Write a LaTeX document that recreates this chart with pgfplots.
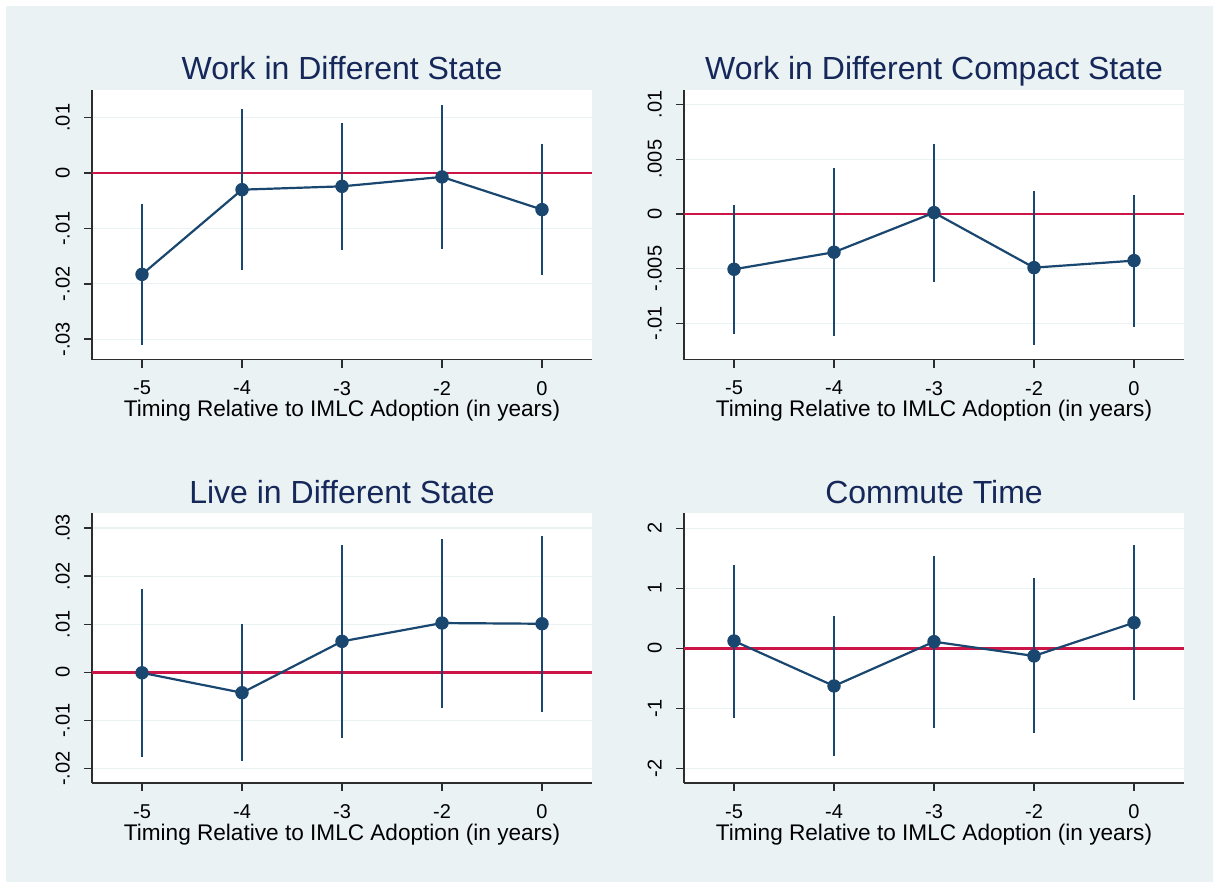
\documentclass[border=0pt]{standalone}
\usepackage{fontspec}
\setmainfont{Liberation Sans}
\usepackage{pgfplots}
\usepackage{pgfplotstable}
\pgfplotsset{compat=1.18}
\definecolor{bg}{RGB}{234,242,243}
\definecolor{gridc}{RGB}{234,242,243}
\definecolor{navy}{RGB}{26,71,111}
\definecolor{titlec}{RGB}{22,40,90}
\definecolor{zeroc}{RGB}{204,20,70}
\definecolor{axisc}{RGB}{45,45,45}

\pgfplotstableread{
x y lo hi
0 -0.0183 -0.0311 -0.0056
1 -0.0030 -0.0175 0.0116
2 -0.0024 -0.0139 0.0091
3 -0.0007 -0.0137 0.0123
4 -0.0066 -0.0184 0.0052
}\tabA
\pgfplotstableread{
x y lo hi
0 -0.00506 -0.01097 0.0008
1 -0.0035 -0.01116 0.00418
2 0.00012 -0.00619 0.00637
3 -0.00491 -0.01198 0.0021
4 -0.00427 -0.0103 0.00177
}\tabB
\pgfplotstableread{
x y lo hi
0 -0.0001 -0.01755 0.01738
1 -0.00424 -0.01844 0.01004
2 0.00644 -0.0136 0.02647
3 0.01025 -0.00736 0.02771
4 0.0101 -0.00825 0.0284
}\tabC
\pgfplotstableread{
x y lo hi
0 0.122 -1.157 1.388
1 -0.628 -1.79 0.543
2 0.11 -1.323 1.533
3 -0.128 -1.412 1.172
4 0.427 -0.857 1.717
}\tabD

\pgfplotsset{
  panel/.style={
    scale only axis, width=250pt, height=134.85pt,
    xmin=-0.5, xmax=4.5,
    axis x line*=bottom, axis y line*=left,
    axis line style={-, draw=axisc, line width=0.7pt},
    xtick={0,1,2,3,4}, xticklabels={-5,-4,-3,-2,0},
    scaled y ticks=false,
    tick align=outside, major tick length=4pt,
    tick style={draw=axisc, line width=0.7pt},
    ymajorgrids, grid style={draw=gridc, line width=0.6pt},
    axis background/.style={fill=white},
    ticklabel style={font=\fontsize{10}{12}\selectfont, text=black},
    xticklabel style={yshift=-3.2pt},
    yticklabel style={xshift=-3.6pt, rotate=90, anchor=south},
    xlabel={Timing Relative to IMLC Adoption (in years)},
    xlabel style={at={(axis description cs:0.5,0)}, anchor=base, yshift=-28.6pt,
      font=\fontsize{11.3}{13}\selectfont, text=black},
    title style={at={(axis description cs:0.5,1)}, anchor=base, yshift=-0.9pt,
      font=\fontsize{16}{19}\selectfont, text=titlec},
    clip=false,
  },
  zero/.style={draw=zeroc, line width=1.3pt, mark=none, forget plot},
  cis/.style={only marks, mark=none, forget plot,
    error bars/.cd, y dir=both, y explicit, error mark=none,
    error bar style={line width=1.1pt, draw=navy}},
  est/.style={draw=navy, line width=1.1pt, mark=*, mark size=3.1pt,
    mark options={solid, fill=navy, draw=navy, line width=0.5pt}},
}

\begin{document}
\begin{tikzpicture}
\fill[white] (0pt,0pt) rectangle (609.5pt,443pt);
\fill[bg] (3pt,2pt) rectangle (606.5pt,440pt);
\useasboundingbox (0pt,0pt) rectangle (609.5pt,443pt);

% Panel 1
\begin{axis}[panel, at={(46pt,263.15pt)}, anchor=south west,
  title={Work in Different State},
  ymin=-0.0337, ymax=0.0150,
  ytick={-0.03,-0.02,-0.01,0,0.01}, yticklabels={-.03,-.02,-.01,0,.01}]
\addplot[zero] coordinates {(-0.5,0) (4.5,0)};
\addplot[cis] table[x=x, y=y, y error plus expr=\thisrow{hi}-\thisrow{y}, y error minus expr=\thisrow{y}-\thisrow{lo}] {\tabA};
\addplot[est] table[x=x, y=y] {\tabA};
\end{axis}

% Panel 2
\begin{axis}[panel, at={(342pt,263.15pt)}, anchor=south west,
  title={Work in Different Compact State},
  ymin=-0.01333, ymax=0.01134,
  ytick={-0.01,-0.005,0,0.005,0.01}, yticklabels={-.01,-.005,0,.005,.01}]
\addplot[zero] coordinates {(-0.5,0) (4.5,0)};
\addplot[cis] table[x=x, y=y, y error plus expr=\thisrow{hi}-\thisrow{y}, y error minus expr=\thisrow{y}-\thisrow{lo}] {\tabB};
\addplot[est] table[x=x, y=y] {\tabB};
\end{axis}

% Panel 3
\begin{axis}[panel, at={(46pt,51.5pt)}, anchor=south west,
  title={Live in Different State},
  ymin=-0.0230, ymax=0.03306,
  ytick={-0.02,-0.01,0,0.01,0.02,0.03}, yticklabels={-.02,-.01,0,.01,.02,.03}]
\addplot[zero] coordinates {(-0.5,0) (4.5,0)};
\addplot[cis] table[x=x, y=y, y error plus expr=\thisrow{hi}-\thisrow{y}, y error minus expr=\thisrow{y}-\thisrow{lo}] {\tabC};
\addplot[est] table[x=x, y=y] {\tabC};
\end{axis}

% Panel 4
\begin{axis}[panel, at={(342pt,51.5pt)}, anchor=south west,
  title={Commute Time},
  ymin=-2.245, ymax=2.25,
  ytick={-2,-1,0,1,2}, yticklabels={-2,-1,0,1,2}]
\addplot[zero] coordinates {(-0.5,0) (4.5,0)};
\addplot[cis] table[x=x, y=y, y error plus expr=\thisrow{hi}-\thisrow{y}, y error minus expr=\thisrow{y}-\thisrow{lo}] {\tabD};
\addplot[est] table[x=x, y=y] {\tabD};
\end{axis}
\end{tikzpicture}
\end{document}
